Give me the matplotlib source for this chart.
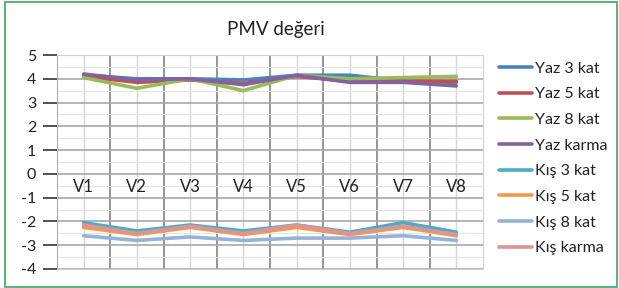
import matplotlib.pyplot as plt
from matplotlib.patches import Rectangle

plt.rcParams['font.family'] = ['Lato', 'DejaVu Sans']

# categories and series
categories = ['V1', 'V2', 'V3', 'V4', 'V5', 'V6', 'V7', 'V8']
yaz_3 = [4.15, 4.0, 4.0, 3.95, 4.15, 4.15, 3.9, 3.85]
yaz_5 = [4.1, 3.85, 3.95, 3.8, 4.1, 3.9, 3.9, 3.9]
yaz_8 = [4.05, 3.6, 4.0, 3.5, 4.15, 4.0, 4.05, 4.1]
yaz_karma = [4.2, 3.95, 4.0, 3.75, 4.15, 3.85, 3.85, 3.7]
kis_3 = [-2.05, -2.4, -2.15, -2.4, -2.15, -2.45, -2.05, -2.45]
kis_5 = [-2.25, -2.55, -2.25, -2.55, -2.25, -2.55, -2.25, -2.6]
kis_8 = [-2.6, -2.8, -2.65, -2.8, -2.7, -2.7, -2.6, -2.8]
kis_karma = [-2.15, -2.5, -2.2, -2.5, -2.15, -2.5, -2.2, -2.55]

series = [
    ('Yaz 3 kat', yaz_3, '#4F81BD'),
    ('Yaz 5 kat', yaz_5, '#C0504D'),
    ('Yaz 8 kat', yaz_8, '#9BBB59'),
    ('Yaz karma', yaz_karma, '#8064A2'),
    ('Kış 3 kat', kis_3, '#4BACC6'),
    ('Kış 5 kat', kis_5, '#F79646'),
    ('Kış 8 kat', kis_8, '#95B3D7'),
    ('Kış karma', kis_karma, '#D99694'),
]

fig = plt.figure(figsize=(6.19, 2.88), dpi=100)
ax = fig.add_axes([57/619, 1 - 269/288, (483-57)/619, (269-55)/288])

x = list(range(1, len(categories) + 1))
for name, vals, col in series:
    ax.plot(x, vals, color=col, lw=2.6, label=name, solid_capstyle='round')

ax.set_xlim(0.5, len(categories) + 0.5)
ax.set_ylim(-4, 5)

# grid: dark lines between categories, light ones through them
for i in range(len(categories) - 1):
    ax.axvline(i + 1.5, color='#8c8c8c', lw=1.3, zorder=0)
for xi in x:
    ax.axvline(xi, color='#d6d6d6', lw=1.0, zorder=0)
for yv in range(-4, 6):
    ax.axhline(yv, color='#a8a8a8', lw=1.2, zorder=0)
for yv in range(-4, 5):
    ax.axhline(yv + 0.5, color='#e4e4e4', lw=0.8, zorder=0)

ax.set_xticks([])
ax.set_yticks(range(-4, 6))
ax.set_yticklabels([str(v) for v in range(-4, 6)], fontsize=11.5, color='#222222')
ax.tick_params(axis='y', length=10, width=1.2, color='#333333', pad=5)

for s in ['top', 'right', 'bottom']:
    ax.spines[s].set_color('#d0d0d0')
ax.spines['left'].set_color('#b0b0b0')

# category labels sit just under the zero line
for xi, lab in zip(x, categories):
    ax.text(xi, -0.55, lab, ha='center', va='center', fontsize=12, color='#222222')

fig.text(276/619, 1 - 30/288, 'PMV değeri', ha='center', va='center', fontsize=13.5, color='#222222')

leg = ax.legend(loc='upper left', bbox_to_anchor=(493/619, 1 - 55/288), bbox_transform=fig.transFigure,
                frameon=False, fontsize=11.5, handlelength=2.05, handletextpad=0.15,
                labelspacing=0.72, borderaxespad=0)
for t in leg.get_texts():
    t.set_color('#222222')

# green frame around the whole chart
fig.patches.append(Rectangle((5/619, 1/288), 612/619, 285/288, transform=fig.transFigure,
                             fill=False, edgecolor='#4CAF6A', lw=1.3))

fig.savefig('out.png', dpi=100)
